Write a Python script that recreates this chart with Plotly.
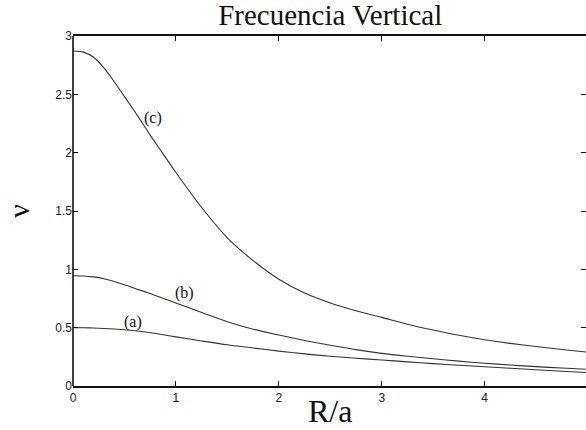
import plotly.graph_objects as go

x_vals = [0, 0.1, 0.2, 0.3, 0.4, 0.5, 0.625, 0.75, 0.875, 1, 1.25, 1.5, 1.75, 2, 2.25, 2.5, 2.75, 3, 3.25, 3.5, 3.75, 4, 4.25, 4.5, 4.75, 5]
curve_a = [0.5, 0.4995, 0.497, 0.493, 0.488, 0.482, 0.471, 0.457, 0.44, 0.421, 0.386, 0.353, 0.326, 0.299, 0.275, 0.255, 0.238, 0.223, 0.207, 0.192, 0.178, 0.165, 0.152, 0.139, 0.127, 0.115]
curve_b = [0.945, 0.943, 0.935, 0.92, 0.896, 0.868, 0.83, 0.792, 0.752, 0.712, 0.63, 0.551, 0.487, 0.437, 0.39, 0.35, 0.312, 0.28, 0.255, 0.233, 0.213, 0.195, 0.18, 0.166, 0.154, 0.143]
curve_c = [2.872, 2.862, 2.818, 2.727, 2.61, 2.48, 2.32, 2.15, 1.99, 1.83, 1.53, 1.27, 1.075, 0.915, 0.797, 0.712, 0.645, 0.588, 0.53, 0.48, 0.435, 0.397, 0.365, 0.338, 0.313, 0.29]

labels = ["(a)", "(b)", "(c)"]
label_x = [0.585, 1.087, 0.78]
label_y = [0.55, 0.80, 2.30]

x_ticks = [0, 1, 2, 3, 4, 5]
y_ticks = [0, 0.5, 1, 1.5, 2, 2.5, 3]
y_ticklabels = ["0", "0.5", "1", "1.5", "2", "2.5", "3"]

serif = "Liberation Serif, Times New Roman, serif"

fig = go.Figure()
for ys in (curve_a, curve_b, curve_c):
    fig.add_trace(go.Scatter(x=x_vals, y=ys, mode="lines",
                             line=dict(color="#333333", width=1.1, shape="spline", smoothing=0.8),
                             showlegend=False, hoverinfo="skip"))

for t, lx, ly in zip(labels, label_x, label_y):
    fig.add_annotation(x=lx, y=ly, text=t, showarrow=False,
                       font=dict(family=serif, size=16, color="#111"))

fig.add_annotation(x=0.501, y=0, xref="paper", yref="paper", xanchor="center", yanchor="top",
                   yshift=-4.5, text="R/a", showarrow=False,
                   font=dict(family=serif, size=32, color="#111"))

tickfont = dict(family="Liberation Sans, Arial, sans-serif", size=12, color="#222")
fig.update_layout(
    width=586, height=430,
    margin=dict(l=73, r=0, t=36, b=44),
    paper_bgcolor="white", plot_bgcolor="white",
    title=dict(text="Frecuencia Vertical", x=0.5635, xanchor="center", y=0.99, yanchor="top",
               font=dict(family=serif, size=29, color="#111")),
    xaxis=dict(range=[0, 4.985], tickvals=x_ticks, ticktext=[str(v) for v in x_ticks],
               ticks="inside", ticklen=5, tickcolor="#111", tickwidth=1.2,
               showline=True, linecolor="#111", linewidth=1.6, mirror="ticks",
               showgrid=False, zeroline=False, tickfont=tickfont),
    yaxis=dict(range=[0, 3], tickvals=y_ticks, ticktext=y_ticklabels,
               ticks="inside", ticklen=5, tickcolor="#111", tickwidth=1.2,
               showline=False, mirror="ticks",
               showgrid=False, zeroline=False, tickfont=tickfont,
               title=dict(text="ν", standoff=16,
                          font=dict(family=serif, size=30, color="#111"))),
)
fig.add_shape(type="line", xref="paper", yref="paper", x0=0, x1=0, y0=0, y1=1,
              line=dict(color="#111", width=1.6))

fig.write_html("out.html", config={"displayModeBar": False},
               post_script="document.body.style.margin='0px';document.body.style.overflow='hidden';")
